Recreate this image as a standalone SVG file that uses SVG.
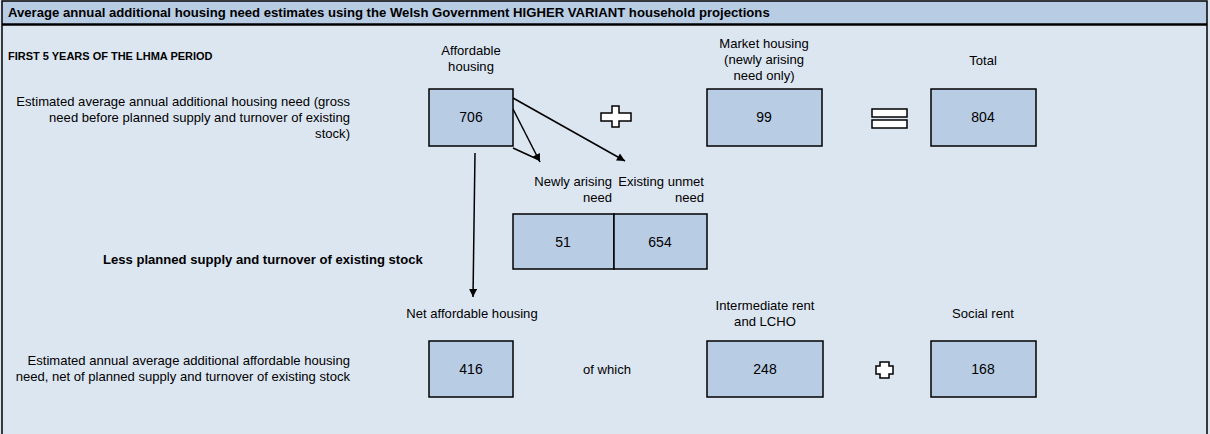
<svg xmlns="http://www.w3.org/2000/svg" width="1210" height="434" viewBox="0 0 1210 434">
<style>
text{font-family:"Liberation Sans",Arial,sans-serif;fill:#000}
.r{font-size:12px}
.b{font-size:12px;font-weight:bold}
.s{font-size:10px;font-weight:bold}
.n{font-size:14px;text-anchor:middle}
.m{text-anchor:middle}
.e{text-anchor:end}
.box{fill:#b8cce4;stroke:#000;stroke-width:1.5}
.sym{fill:#fff;stroke:#000;stroke-width:1.5}
.ln{stroke:#000;stroke-width:1.5;fill:none}
</style>
<defs>
<marker id="ah" viewBox="0 0 10 10" refX="10" refY="5" markerUnits="userSpaceOnUse" markerWidth="9" markerHeight="8" orient="auto">
<path d="M0,0 L10,5 L0,10 z" fill="#000"/>
</marker>
</defs>
<rect x="0" y="0" width="1210" height="434" fill="#dce6f1"/>
<rect x="2" y="1" width="1205" height="23" fill="#b8cce4"/>
<path d="M2,440 V1 H1207 V440" fill="none" stroke="#000" stroke-width="1.5"/>
<line x1="2" y1="24.5" x2="1207" y2="24.5" stroke="#000" stroke-width="2.5"/>
<text class="b" transform="translate(8 17) scale(1.095 1)">Average annual additional housing need estimates using the Welsh Government HIGHER VARIANT household projections</text>
<text class="s" transform="translate(8 60) scale(1.1 1)">FIRST 5 YEARS OF THE LHMA PERIOD</text>
<text class="r e" transform="translate(350 106) scale(1.09 1)"><tspan x="0" y="0">Estimated average annual additional housing need (gross</tspan><tspan x="0" y="16">need before planned supply and turnover of existing</tspan><tspan x="0" y="32">stock)</tspan></text>
<text class="b" transform="translate(103 264) scale(1.09 1)">Less planned supply and turnover of existing stock</text>
<text class="r e" transform="translate(350 365) scale(1.09 1)"><tspan x="0" y="0">Estimated annual average additional affordable housing</tspan><tspan x="0" y="16">need, net of planned supply and turnover of existing stock</tspan></text>

<g id="connectors">
<line class="ln" x1="513" y1="98" x2="625" y2="161" marker-end="url(#ah)"/>
<line class="ln" x1="513" y1="109" x2="540" y2="162" marker-end="url(#ah)"/>
<line class="ln" x1="513" y1="148" x2="537" y2="159"/>
<line class="ln" x1="475" y1="153" x2="473" y2="297" marker-end="url(#ah)"/>
</g>

<g id="affordable">
<text class="r m" transform="translate(471 55) scale(1.09 1)"><tspan x="0" y="0">Affordable</tspan><tspan x="0" y="16">housing</tspan></text>
<rect class="box" x="429" y="89" width="84" height="57"/>
<text class="n" x="471" y="122">706</text>
</g>
<g id="plus1">
<polygon class="sym" points="612,106 619,106 619,113 631,113 631,121 619,121 619,127 612,127 612,121 601,121 601,113 612,113"/>
</g>
<g id="market">
<text class="r m" transform="translate(764 48) scale(1.09 1)"><tspan x="0" y="0">Market housing</tspan><tspan x="0" y="16">(newly arising</tspan><tspan x="0" y="32">need only)</tspan></text>
<rect class="box" x="707" y="89" width="115" height="57"/>
<text class="n" x="764" y="122">99</text>
</g>
<g id="equals">
<rect class="sym" x="872" y="109" width="35" height="8"/>
<rect class="sym" x="872" y="120" width="35" height="8"/>
</g>
<g id="total">
<text class="r m" transform="translate(983 65) scale(1.09 1)">Total</text>
<rect class="box" x="931" y="89" width="105" height="57"/>
<text class="n" x="983" y="122">804</text>
</g>
<g id="newly">
<text class="r e" transform="translate(612 186) scale(1.09 1)"><tspan x="0" y="0">Newly arising</tspan><tspan x="0" y="16">need</tspan></text>
<rect class="box" x="513" y="214" width="101" height="55"/>
<text class="n" x="563" y="247">51</text>
</g>
<g id="existing">
<text class="r e" transform="translate(704 186) scale(1.09 1)"><tspan x="0" y="0">Existing unmet</tspan><tspan x="0" y="16">need</tspan></text>
<rect class="box" x="614" y="214" width="93" height="55"/>
<text class="n" x="660" y="247">654</text>
</g>
<g id="net">
<text class="r m" transform="translate(472 318) scale(1.09 1)">Net affordable housing</text>
<rect class="box" x="429" y="341" width="84" height="56"/>
<text class="n" x="471" y="374">416</text>
</g>
<text class="r" transform="translate(583 374) scale(1.09 1)">of which</text>
<g id="intermediate">
<text class="r m" transform="translate(765 310) scale(1.09 1)"><tspan x="0" y="0">Intermediate rent</tspan><tspan x="0" y="16">and LCHO</tspan></text>
<rect class="box" x="707" y="341" width="116" height="56"/>
<text class="n" x="765" y="374">248</text>
</g>
<g id="plus2">
<polygon class="sym" points="880,362 889,362 889,366 893,366 893,374 889,374 889,378 880,378 880,374 876,374 876,366 880,366"/>
</g>
<g id="social">
<text class="r m" transform="translate(983 318) scale(1.09 1)">Social rent</text>
<rect class="box" x="931" y="341" width="105" height="56"/>
<text class="n" x="983" y="374">168</text>
</g>
</svg>
